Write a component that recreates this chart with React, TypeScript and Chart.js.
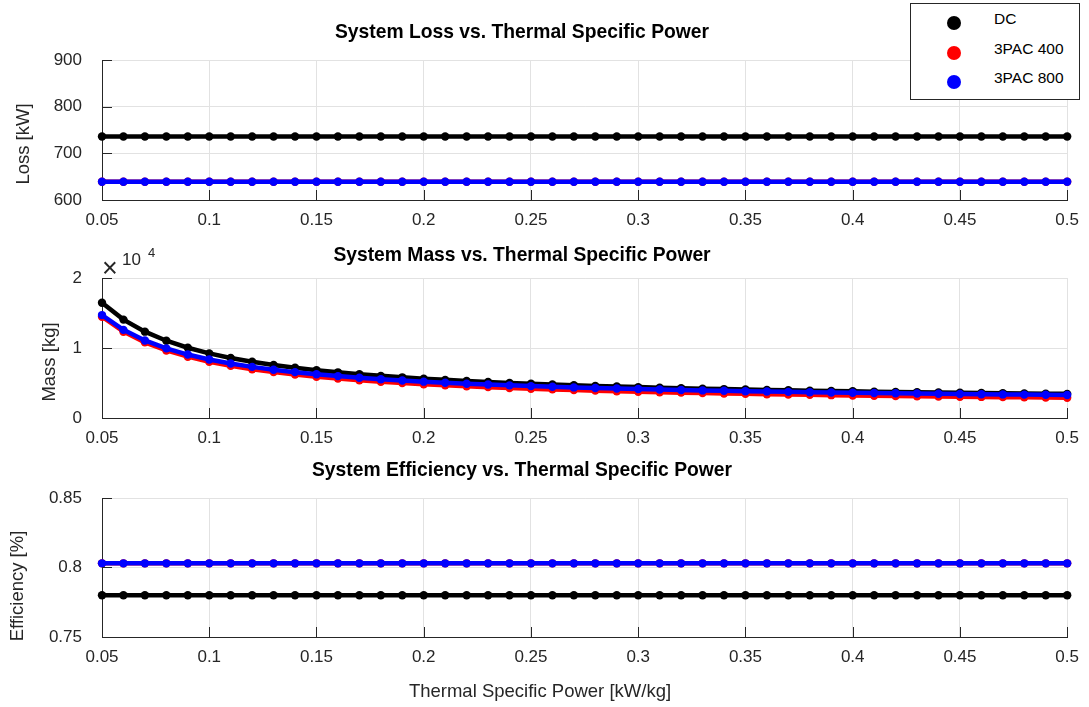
import React, { useEffect, useRef } from 'react';
import { Chart, registerables } from 'chart.js';

Chart.register(...registerables);

// ---------- data ----------
const xValues = [
  0.05, 0.06, 0.07, 0.08, 0.09, 0.1, 0.11, 0.12, 0.13, 0.14,
  0.15, 0.16, 0.17, 0.18, 0.19, 0.2, 0.21, 0.22, 0.23, 0.24,
  0.25, 0.26, 0.27, 0.28, 0.29, 0.3, 0.31, 0.32, 0.33, 0.34,
  0.35, 0.36, 0.37, 0.38, 0.39, 0.4, 0.41, 0.42, 0.43, 0.44,
  0.45, 0.46, 0.47, 0.48, 0.49, 0.5,
];
const xTicks = [0.05, 0.1, 0.15, 0.2, 0.25, 0.3, 0.35, 0.4, 0.45, 0.5];

const seriesNames = ['DC', '3PAC 400', '3PAC 800'];
const seriesColors = ['#000000', '#ff0000', '#0000ff'];

const lossDC = [
  736, 736, 736, 736, 736, 736, 736, 736, 736, 736,
  736, 736, 736, 736, 736, 736, 736, 736, 736, 736,
  736, 736, 736, 736, 736, 736, 736, 736, 736, 736,
  736, 736, 736, 736, 736, 736, 736, 736, 736, 736,
  736, 736, 736, 736, 736, 736,
];
const loss400 = [
  639, 639, 639, 639, 639, 639, 639, 639, 639, 639,
  639, 639, 639, 639, 639, 639, 639, 639, 639, 639,
  639, 639, 639, 639, 639, 639, 639, 639, 639, 639,
  639, 639, 639, 639, 639, 639, 639, 639, 639, 639,
  639, 639, 639, 639, 639, 639,
];
const loss800 = [
  639, 639, 639, 639, 639, 639, 639, 639, 639, 639,
  639, 639, 639, 639, 639, 639, 639, 639, 639, 639,
  639, 639, 639, 639, 639, 639, 639, 639, 639, 639,
  639, 639, 639, 639, 639, 639, 639, 639, 639, 639,
  639, 639, 639, 639, 639, 639,
];

const massDC = [
  16464, 14054, 12333, 11041, 10037, 9234, 8577, 8029, 7566, 7168,
  6824, 6523, 6257, 6021, 5809, 5619, 5447, 5290, 5147, 5017,
  4896, 4785, 4682, 4586, 4497, 4414, 4336, 4263, 4195, 4130,
  4070, 4012, 3958, 3907, 3858, 3812, 3767, 3725, 3685, 3647,
  3611, 3576, 3542, 3510, 3480, 3450,
];
const mass400 = [
  14474, 12331, 10800, 9652, 8758, 8044, 7459, 6972, 6560, 6207,
  5901, 5633, 5396, 5186, 4998, 4829, 4676, 4537, 4410, 4293,
  4186, 4087, 3995, 3910, 3831, 3757, 3688, 3623, 3562, 3505,
  3451, 3400, 3352, 3306, 3263, 3222, 3182, 3145, 3109, 3075,
  3043, 3012, 2982, 2954, 2926, 2900,
];
const mass800 = [
  14701, 12588, 11078, 9946, 9065, 8361, 7785, 7304, 6898, 6550,
  6248, 5984, 5750, 5543, 5358, 5191, 5040, 4903, 4778, 4663,
  4557, 4459, 4369, 4285, 4207, 4134, 4066, 4002, 3942, 3886,
  3832, 3782, 3735, 3689, 3647, 3606, 3567, 3531, 3495, 3462,
  3430, 3399, 3370, 3342, 3315, 3289,
];

const effDC = [
  0.78, 0.78, 0.78, 0.78, 0.78, 0.78, 0.78, 0.78, 0.78, 0.78,
  0.78, 0.78, 0.78, 0.78, 0.78, 0.78, 0.78, 0.78, 0.78, 0.78,
  0.78, 0.78, 0.78, 0.78, 0.78, 0.78, 0.78, 0.78, 0.78, 0.78,
  0.78, 0.78, 0.78, 0.78, 0.78, 0.78, 0.78, 0.78, 0.78, 0.78,
  0.78, 0.78, 0.78, 0.78, 0.78, 0.78,
];
const eff400 = [
  0.803, 0.803, 0.803, 0.803, 0.803, 0.803, 0.803, 0.803, 0.803, 0.803,
  0.803, 0.803, 0.803, 0.803, 0.803, 0.803, 0.803, 0.803, 0.803, 0.803,
  0.803, 0.803, 0.803, 0.803, 0.803, 0.803, 0.803, 0.803, 0.803, 0.803,
  0.803, 0.803, 0.803, 0.803, 0.803, 0.803, 0.803, 0.803, 0.803, 0.803,
  0.803, 0.803, 0.803, 0.803, 0.803, 0.803,
];
const eff800 = [
  0.803, 0.803, 0.803, 0.803, 0.803, 0.803, 0.803, 0.803, 0.803, 0.803,
  0.803, 0.803, 0.803, 0.803, 0.803, 0.803, 0.803, 0.803, 0.803, 0.803,
  0.803, 0.803, 0.803, 0.803, 0.803, 0.803, 0.803, 0.803, 0.803, 0.803,
  0.803, 0.803, 0.803, 0.803, 0.803, 0.803, 0.803, 0.803, 0.803, 0.803,
  0.803, 0.803, 0.803, 0.803, 0.803, 0.803,
];

const lossTicks = [600, 700, 800, 900];
const massTicks = [0, 10000, 20000];
const effTicks = [0.75, 0.8, 0.85];

const titles = [
  'System Loss vs. Thermal Specific Power',
  'System Mass vs. Thermal Specific Power',
  'System Efficiency vs. Thermal Specific Power',
];
const yLabels = ['Loss [kW]', 'Mass [kg]', 'Efficiency [%]'];
const xLabel = 'Thermal Specific Power [kW/kg]';

// ---------- styling ----------
const W = 1089;
const H = 707;
const FONT = "'Liberation Sans', Arial, Helvetica, sans-serif";
const AXIS_COLOR = '#262626';
const GRID_COLOR = '#e2e2e2';

const fmt = (v: number) => String(parseFloat(Number(v).toFixed(4)));

type PanelSpec = {
  series: number[][];
  yMin: number;
  yMax: number;
  yTicks: number[];
  yFmt: (v: number) => string;
  padTop: number;
  padBottom: number;
  title: string;
  titleBaseline: number;
  ylabel: string;
  ylabelX: number;
  ylabelY: number;
  xlabel?: boolean;
  exponent?: boolean;
};

function buildConfig(p: PanelSpec): any {
  const datasets = p.series.map((s, i) => ({
    label: seriesNames[i],
    data: xValues.map((x, j) => ({ x, y: s[j] })),
    borderColor: seriesColors[i],
    backgroundColor: seriesColors[i],
    pointBackgroundColor: seriesColors[i],
    pointBorderColor: seriesColors[i],
    pointBorderWidth: 0,
    pointRadius: 4.2,
    borderWidth: 4.5,
    tension: 0,
    clip: false,
    order: 2 - i,
  }));

  const decor = {
    id: 'decor' + p.title.length,
    afterDraw(chart: any) {
      const ctx = chart.ctx;
      const area = chart.chartArea;
      const xs = chart.scales.x;
      const ys = chart.scales.y;
      ctx.save();
      // inward tick marks
      ctx.strokeStyle = AXIS_COLOR;
      ctx.lineWidth = 1;
      ctx.beginPath();
      xTicks.forEach((t) => {
        const px = Math.round(xs.getPixelForValue(t)) + 0.5;
        ctx.moveTo(px, area.bottom);
        ctx.lineTo(px, area.bottom - 10);
      });
      p.yTicks.forEach((t) => {
        const py = Math.round(ys.getPixelForValue(t)) + 0.5;
        ctx.moveTo(area.left, py);
        ctx.lineTo(area.left + 10, py);
      });
      ctx.stroke();

      // title
      ctx.fillStyle = '#000000';
      ctx.font = `bold 19.3px ${FONT}`;
      ctx.textAlign = 'center';
      ctx.textBaseline = 'alphabetic';
      ctx.fillText(p.title, 522, p.titleBaseline);

      // y label
      ctx.save();
      ctx.translate(p.ylabelX, p.ylabelY);
      ctx.rotate(-Math.PI / 2);
      ctx.fillStyle = AXIS_COLOR;
      ctx.font = `18.5px ${FONT}`;
      ctx.textAlign = 'center';
      ctx.textBaseline = 'middle';
      ctx.fillText(p.ylabel, 0, 0);
      ctx.restore();

      if (p.xlabel) {
        ctx.fillStyle = AXIS_COLOR;
        ctx.font = `18.5px ${FONT}`;
        ctx.textAlign = 'center';
        ctx.textBaseline = 'middle';
        ctx.fillText(xLabel, 540, 692);
      }

      if (p.exponent) {
        ctx.fillStyle = AXIS_COLOR;
        ctx.textAlign = 'left';
        ctx.textBaseline = 'alphabetic';
        ctx.font = `300 27px ${FONT}`;
        ctx.fillText('\u00d7', 102, 277);
        ctx.font = `17px ${FONT}`;
        ctx.fillText('10', 122, 265);
        ctx.font = `13px ${FONT}`;
        ctx.fillText('4', 148, 257);
      }
      ctx.restore();
    },
  };

  return {
    type: 'line',
    data: { datasets },
    plugins: [decor],
    options: {
      animation: false,
      responsive: false,
      devicePixelRatio: 1,
      events: [],
      layout: { padding: { top: p.padTop, bottom: p.padBottom, left: 0, right: 20 } },
      plugins: {
        legend: { display: false },
        tooltip: { enabled: false },
        title: { display: false },
      },
      scales: {
        x: {
          type: 'linear',
          min: 0.05,
          max: 0.5,
          afterBuildTicks: (scale: any) => {
            scale.ticks = xTicks.map((v) => ({ value: v }));
          },
          afterFit: (scale: any) => {
            scale.height = 30;
          },
          ticks: {
            callback: (v: any) => fmt(v),
            color: AXIS_COLOR,
            font: { family: FONT, size: 17 },
            padding: 10,
            maxRotation: 0,
            autoSkip: false,
          },
          grid: { color: GRID_COLOR, drawTicks: false, lineWidth: 1 },
          border: { display: true, color: AXIS_COLOR, width: 1 },
        },
        y: {
          type: 'linear',
          min: p.yMin,
          max: p.yMax,
          afterBuildTicks: (scale: any) => {
            scale.ticks = p.yTicks.map((v) => ({ value: v }));
          },
          afterFit: (scale: any) => {
            scale.width = 102;
          },
          ticks: {
            callback: (v: any) => p.yFmt(v),
            color: AXIS_COLOR,
            font: { family: FONT, size: 17 },
            padding: 20,
            autoSkip: false,
          },
          grid: { color: GRID_COLOR, drawTicks: false, lineWidth: 1 },
          border: { display: true, color: AXIS_COLOR, width: 1 },
        },
      },
    },
  };
}

const panels: PanelSpec[] = [
  {
    series: [lossDC, loss400, loss800],
    yMin: 600,
    yMax: 900,
    yTicks: lossTicks,
    yFmt: (v) => fmt(v),
    padTop: 60,
    padBottom: H - 200 - 30,
    title: titles[0],
    titleBaseline: 38,
    ylabel: yLabels[0],
    ylabelX: 24,
    ylabelY: 144,
  },
  {
    series: [massDC, mass400, mass800],
    yMin: 0,
    yMax: 20000,
    yTicks: massTicks,
    yFmt: (v) => fmt(v / 10000),
    padTop: 278,
    padBottom: H - 418 - 30,
    title: titles[1],
    titleBaseline: 261,
    ylabel: yLabels[1],
    ylabelX: 50,
    ylabelY: 362,
    exponent: true,
  },
  {
    series: [effDC, eff400, eff800],
    yMin: 0.75,
    yMax: 0.85,
    yTicks: effTicks,
    yFmt: (v) => fmt(v),
    padTop: 498,
    padBottom: H - 637 - 30,
    title: titles[2],
    titleBaseline: 476,
    ylabel: yLabels[2],
    ylabelX: 18,
    ylabelY: 586,
    xlabel: true,
  },
];

function Panel({ spec }: { spec: PanelSpec }) {
  const ref = useRef<HTMLCanvasElement | null>(null);
  useEffect(() => {
    if (!ref.current) return;
    const chart = new Chart(ref.current, buildConfig(spec));
    return () => chart.destroy();
  }, [spec]);
  return (
    <canvas
      ref={ref}
      width={W}
      height={H}
      style={{ position: 'absolute', left: 0, top: 0, width: W, height: H }}
    />
  );
}

function Legend() {
  const rows = [22, 52, 81];
  return (
    <div
      style={{
        position: 'absolute',
        left: 910,
        top: 3,
        width: 170,
        height: 97,
        boxSizing: 'border-box',
        border: `1px solid ${AXIS_COLOR}`,
        background: '#ffffff',
        fontFamily: FONT,
        fontSize: 15.5,
        color: '#000000',
      }}
    >
      {seriesNames.map((name, i) => (
        <React.Fragment key={name}>
          <div
            style={{
              position: 'absolute',
              left: 953 - 910 - 7,
              top: rows[i] - 3 - 7,
              width: 14,
              height: 14,
              borderRadius: '50%',
              background: seriesColors[i],
            }}
          />
          <div
            style={{
              position: 'absolute',
              left: 993 - 910,
              top: rows[i] - 3 - 14,
              lineHeight: '20px',
              whiteSpace: 'nowrap',
            }}
          >
            {name}
          </div>
        </React.Fragment>
      ))}
    </div>
  );
}

export default function App() {
  return (
    <div
      style={{
        position: 'fixed',
        left: 0,
        top: 0,
        width: W,
        height: H,
        background: '#ffffff',
        overflow: 'hidden',
      }}
    >
      {panels.map((p, i) => (
        <Panel key={i} spec={p} />
      ))}
      <Legend />
    </div>
  );
}
